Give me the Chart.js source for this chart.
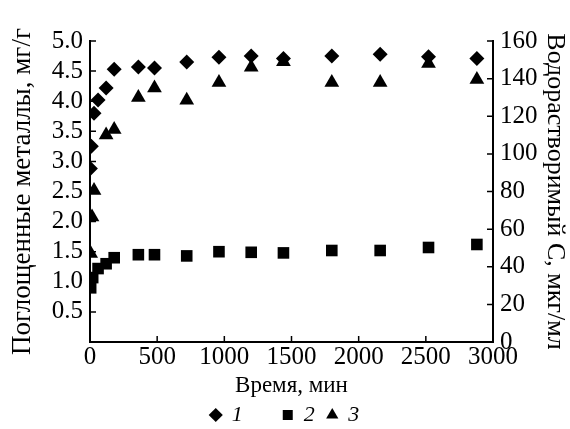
<!DOCTYPE html>
<html>
<head>
<meta charset="utf-8">
<title>Поглощенные металлы</title>
<script src="https://cdn.jsdelivr.net/npm/chart.js"></script>
<style>
  html, body { margin: 0; padding: 0; background: #fff; }
</style>
</head>
<body>
<canvas id="myChart" width="570" height="429"></canvas>
<script>
// серия 1 (ромбы), мг/г
const time1 = [3, 10, 30, 60, 120, 180, 360, 480, 720, 960, 1200, 1440, 1800, 2160, 2520, 2880]
const metal1 = [2.88, 3.25, 3.8, 4.02, 4.22, 4.53, 4.57, 4.55, 4.65, 4.73, 4.75, 4.71, 4.75, 4.78, 4.74, 4.71]
// серия 2 (квадраты), мг/г
const time2 = [5, 20, 60, 120, 180, 360, 480, 720, 960, 1200, 1440, 1800, 2160, 2520, 2880]
const metal2 = [0.9, 1.07, 1.22, 1.3, 1.4, 1.45, 1.45, 1.43, 1.5, 1.49, 1.48, 1.52, 1.52, 1.57, 1.62]
// серия 3 (треугольники), мкг/мл
const time3 = [5, 15, 30, 120, 180, 360, 480, 720, 960, 1200, 1440, 1800, 2160, 2520, 2880]
const carbon3 = [47, 66.5, 80.5, 110, 113, 130, 135, 128.5, 138, 146, 149, 138, 138, 148, 139.5]

// подписи легенды (пробелы дают промежутки как в оригинале)
const seriesLabels = ['1      ', '2 ', '3']

const serif = 'Liberation Serif'
const black = '#000'

function points(xs, ys) {
  return xs.map((x, i) => ({ x: x, y: ys[i] }))
}

const tickFont = { family: serif, size: 25 }

// короткие засечки внутрь области графика
const innerTicks = {
  id: 'innerTicks',
  afterDraw(chart) {
    const { ctx, chartArea: a, scales } = chart
    const len = 6
    ctx.save()
    ctx.strokeStyle = black
    ctx.lineWidth = 1.5
    ctx.beginPath()
    scales.x.ticks.forEach(t => {
      const px = scales.x.getPixelForValue(t.value)
      ctx.moveTo(px, a.bottom)
      ctx.lineTo(px, a.bottom - len)
    })
    scales.y.ticks.forEach(t => {
      const py = scales.y.getPixelForValue(t.value)
      ctx.moveTo(a.left, py)
      ctx.lineTo(a.left + len, py)
    })
    scales.y2.ticks.forEach(t => {
      const py = scales.y2.getPixelForValue(t.value)
      ctx.moveTo(a.right, py)
      ctx.lineTo(a.right - len, py)
    })
    ctx.stroke()
    ctx.restore()
  }
}

const ctx = document.getElementById('myChart').getContext('2d')
const myChart = new Chart(ctx, {
  type: 'scatter',
  data: {
    datasets: [
      {
        label: seriesLabels[0],
        data: points(time1, metal1),
        yAxisID: 'y',
        pointStyle: 'rectRot',
        pointRadius: 7.5,
        backgroundColor: black,
        borderColor: black,
        borderWidth: 0
      },
      {
        label: seriesLabels[1],
        data: points(time2, metal2),
        yAxisID: 'y',
        pointStyle: 'rect',
        pointRadius: 8.2,
        backgroundColor: black,
        borderColor: black,
        borderWidth: 0
      },
      {
        label: seriesLabels[2],
        data: points(time3, carbon3),
        yAxisID: 'y2',
        pointStyle: 'triangle',
        pointRadius: 8.5,
        backgroundColor: black,
        borderColor: black,
        borderWidth: 0
      }
    ]
  },
  plugins: [innerTicks],
  options: {
    responsive: false,
    animation: false,
    layout: { padding: { top: 41, right: 0, bottom: -7, left: 0 } },
    plugins: {
      tooltip: { enabled: false },
      legend: {
        position: 'bottom',
        labels: {
          usePointStyle: true,
          boxWidth: 10,
          boxHeight: 10,
          padding: 7,
          color: black,
          font: { family: serif, size: 22, style: 'italic' }
        }
      }
    },
    scales: {
      x: {
        type: 'linear',
        min: 0,
        max: 3000,
        ticks: { stepSize: 500, autoSkip: false, color: black, font: tickFont, padding: 0, maxRotation: 0, callback: v => String(v) },
        grid: { drawOnChartArea: false, drawTicks: false, tickLength: 0 },
        border: { color: black, width: 2 },
        title: { display: true, text: 'Время, мин', color: black, font: { family: serif, size: 23 }, padding: { top: 0, bottom: -3 } },
        afterFit: s => { s.height = 55 }
      },
      y: {
        position: 'left',
        min: 0,
        max: 5,
        ticks: {
          stepSize: 0.5,
          autoSkip: false,
          color: black,
          font: tickFont,
          padding: 7,
          callback: v => (v === 0 ? '' : v.toFixed(1))
        },
        grid: { drawOnChartArea: false, drawTicks: false, tickLength: 0 },
        border: { color: black, width: 2 },
        title: { display: true, text: 'Поглощенные металлы, мг/г', color: black, font: { family: serif, size: 27 }, padding: { top: 7, bottom: 0 } },
        afterFit: s => { s.width = 90 }
      },
      y2: {
        position: 'right',
        min: 0,
        max: 160,
        ticks: { stepSize: 20, autoSkip: false, color: black, font: tickFont, padding: 7 },
        grid: { drawOnChartArea: false, drawTicks: false, tickLength: 0 },
        border: { color: black, width: 2 },
        title: { display: true, text: 'Водорастворимый C, мкг/мл', color: black, font: { family: serif, size: 26 }, padding: { top: 0, bottom: 0 } },
        afterFit: s => { s.width = 77 }
      }
    }
  }
})
</script>
</body>
</html>
